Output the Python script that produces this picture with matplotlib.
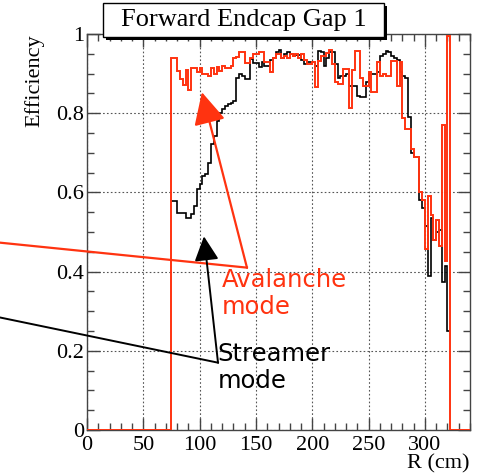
import numpy as np
import matplotlib.pyplot as plt
from matplotlib.patches import Rectangle
from matplotlib.ticker import MultipleLocator

# histogram bins: 2.5 cm wide, starting at R = 75 cm
bin_width = 2.5
r_start = 75.0

# streamer mode efficiency (black)
streamer = [
    0.578, 0.578, 0.549, 0.549, 0.549, 0.536, 0.536, 0.545, 0.565, 0.608,
    0.620, 0.641, 0.646, 0.675, 0.722, 0.743, 0.780, 0.800, 0.810, 0.817,
    0.823, 0.827, 0.831, 0.890,
    0.900, 0.894, 0.886, 0.886, 0.937, 0.928, 0.928, 0.916, 0.930, 0.920,
    0.920, 0.935, 0.940, 0.955, 0.960, 0.940, 0.950, 0.954, 0.950, 0.945,
    0.948, 0.948, 0.935, 0.924, 0.930, 0.930, 0.930, 0.920, 0.958, 0.955,
    0.920, 0.940, 0.955, 0.954, 0.924, 0.890, 0.893, 0.895, 0.900, 0.869,
    0.869, 0.869, 0.844, 0.840, 0.840, 0.878, 0.900, 0.900, 0.900, 0.905,
    0.945, 0.949, 0.957, 0.955, 0.945, 0.940, 0.935, 0.905, 0.895, 0.890,
    0.790, 0.700, 0.690, 0.690, 0.580, 0.560, 0.515, 0.388, 0.536, 0.480,
    0.500, 0.505, 0.375, 0.413, 0.249,
]

# avalanche mode efficiency (red)
avalanche = [
    0.940, 0.940, 0.907, 0.886, 0.871, 0.909, 0.859, 0.913, 0.913, 0.905,
    0.914, 0.899, 0.899, 0.893, 0.915, 0.899, 0.917, 0.907, 0.920, 0.913,
    0.913, 0.920, 0.940, 0.943,
    0.954, 0.954, 0.928, 0.928, 0.940, 0.949, 0.949, 0.955, 0.955, 0.930,
    0.930, 0.903, 0.940, 0.950, 0.950, 0.940, 0.945, 0.940, 0.949, 0.945,
    0.949, 0.940, 0.949, 0.935, 0.924, 0.924, 0.930,
    0.866, 0.932, 0.945, 0.945, 0.953, 0.960, 0.924, 0.880, 0.873, 0.873,
    0.911, 0.911, 0.814, 0.910, 0.958, 0.958, 0.890, 0.869, 0.869, 0.904,
    0.853, 0.853, 0.929, 0.894, 0.900, 0.894, 0.894, 0.932, 0.932, 0.869,
    0.930, 0.787, 0.760, 0.760, 0.710, 0.690, 0.690, 0.600, 0.580, 0.456,
    0.590, 0.544, 0.480, 0.530, 0.464, 0.770, 0.426, 0.995,
]

x_min, x_max = 0, 340
x_ticks = [0, 50, 100, 150, 200, 250, 300]
y_ticks = [0, 0.2, 0.4, 0.6, 0.8, 1]
y_tick_labels = ["0", "0.2", "0.4", "0.6", "0.8", "1"]

red = "#ff3310"
serif = "Liberation Serif"

edges = r_start + bin_width * np.arange(len(streamer) + 1)
full_edges = np.concatenate([[x_min], edges, [x_max]])
full_avalanche = np.concatenate([[0], avalanche, [0]])

fig = plt.figure(figsize=(4.81, 4.76), dpi=100)
ax = fig.add_axes([87 / 481, 46 / 476, 383 / 481, 396 / 476])

ax.stairs(streamer, edges, baseline=None, color="black", lw=1.2, zorder=3)
ax.stairs(full_avalanche, full_edges, baseline=None, color=red, lw=1.4, zorder=4)

ax.set_xlim(x_min, x_max)
ax.set_ylim(0, 1)
ax.set_xticks(x_ticks)
ax.set_yticks(y_ticks)
ax.set_yticklabels(y_tick_labels)
ax.xaxis.set_minor_locator(MultipleLocator(10))
ax.yaxis.set_minor_locator(MultipleLocator(0.05))
ax.tick_params(which="both", direction="in", top=True, right=True,
               color="#444444", width=1)
ax.tick_params(which="major", length=9, labelsize=16)
ax.tick_params(which="minor", length=5)
ax.tick_params(axis="x", which="major", pad=4)
ax.tick_params(axis="y", which="major", pad=2)
for lab in ax.get_xticklabels() + ax.get_yticklabels():
    lab.set_fontfamily(serif)
for s in ax.spines.values():
    s.set_color("#444444")
    s.set_linewidth(1)

ax.grid(True, which="major", linestyle=(0, (1.5, 2)), color="#555555", lw=0.8)

ax.set_ylabel("Efficiency", fontfamily=serif, fontsize=16, loc="top")
ax.yaxis.set_label_coords(-0.11, 1.0)
ax.set_xlabel("R (cm)", fontfamily=serif, fontsize=16, loc="right")
ax.xaxis.set_label_coords(1.0, -0.062)

# callout arrows (polyline from left edge, then arrow to the curve)
ax.plot([-77, 142], [0.473, 0.41], color=red, lw=1.6, clip_on=False, zorder=5)
ax.annotate("", xy=(102, 0.853), xytext=(142, 0.41),
            arrowprops=dict(arrowstyle="-|>,head_length=1.1,head_width=0.55",
                            color=red, lw=1.6, shrinkA=0, shrinkB=0,
                            mutation_scale=18),
            zorder=5)
ax.plot([-77, 116.3], [0.284, 0.17], color="black", lw=1.4, clip_on=False, zorder=5)
ax.annotate("", xy=(103.8, 0.489), xytext=(116.3, 0.17),
            arrowprops=dict(arrowstyle="-|>,head_length=1.0,head_width=0.5",
                            color="black", lw=1.4, shrinkA=0, shrinkB=0,
                            mutation_scale=15),
            zorder=5)

ax.text(119.5, 0.41, "Avalanche\nmode", color=red, fontsize=17.5,
        fontfamily="DejaVu Sans", va="top", ha="left", linespacing=1.2, zorder=6)
ax.text(116, 0.222, "Streamer\nmode", color="black", fontsize=17.5,
        fontfamily="DejaVu Sans", va="top", ha="left", linespacing=1.15, zorder=6)

# title box with drop shadow
W, H = 481, 476
fig.patches.append(Rectangle((106 / W, (H - 40) / H), 281 / W, 34 / H,
                             transform=fig.transFigure, facecolor="black",
                             edgecolor="none", zorder=8))
fig.patches.append(Rectangle((103 / W, (H - 37) / H), 281 / W, 34 / H,
                             transform=fig.transFigure, facecolor="white",
                             edgecolor="black", lw=1, zorder=9))
fig.text(243.5 / W, (H - 20) / H, "Forward Endcap Gap 1", fontfamily=serif,
         fontsize=19, ha="center", va="center", zorder=10)

fig.savefig("out.png", dpi=100)
